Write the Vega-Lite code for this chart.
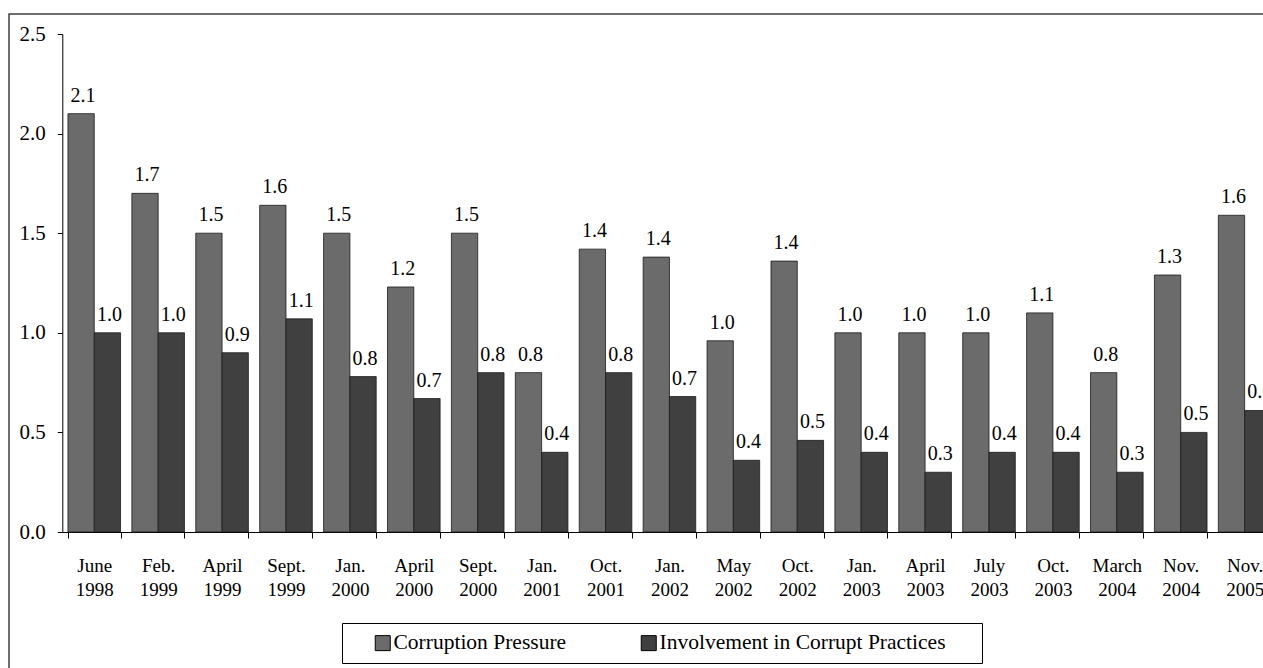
{
  "$schema": "https://vega.github.io/schema/vega-lite/v6.json",
  "autosize": {"type": "none"},
  "padding": {"left": 9, "top": 14, "right": 0, "bottom": 0},
  "width": 1262,
  "height": 664,
  "background": "white",
  "config": {"font": "Liberation Serif", "view": {"stroke": "#404040", "strokeWidth": 1.5}},
  "data": {"values": [
    {"period": "June 1998", "series": "Corruption Pressure", "value": 2.1},
    {"period": "June 1998", "series": "Involvement in Corrupt Practices", "value": 1.0},
    {"period": "Feb. 1999", "series": "Corruption Pressure", "value": 1.7},
    {"period": "Feb. 1999", "series": "Involvement in Corrupt Practices", "value": 1.0},
    {"period": "April 1999", "series": "Corruption Pressure", "value": 1.5},
    {"period": "April 1999", "series": "Involvement in Corrupt Practices", "value": 0.9},
    {"period": "Sept. 1999", "series": "Corruption Pressure", "value": 1.64},
    {"period": "Sept. 1999", "series": "Involvement in Corrupt Practices", "value": 1.07},
    {"period": "Jan. 2000", "series": "Corruption Pressure", "value": 1.5},
    {"period": "Jan. 2000", "series": "Involvement in Corrupt Practices", "value": 0.78},
    {"period": "April 2000", "series": "Corruption Pressure", "value": 1.23},
    {"period": "April 2000", "series": "Involvement in Corrupt Practices", "value": 0.67},
    {"period": "Sept. 2000", "series": "Corruption Pressure", "value": 1.5},
    {"period": "Sept. 2000", "series": "Involvement in Corrupt Practices", "value": 0.8},
    {"period": "Jan. 2001", "series": "Corruption Pressure", "value": 0.8},
    {"period": "Jan. 2001", "series": "Involvement in Corrupt Practices", "value": 0.4},
    {"period": "Oct. 2001", "series": "Corruption Pressure", "value": 1.42},
    {"period": "Oct. 2001", "series": "Involvement in Corrupt Practices", "value": 0.8},
    {"period": "Jan. 2002", "series": "Corruption Pressure", "value": 1.38},
    {"period": "Jan. 2002", "series": "Involvement in Corrupt Practices", "value": 0.68},
    {"period": "May 2002", "series": "Corruption Pressure", "value": 0.96},
    {"period": "May 2002", "series": "Involvement in Corrupt Practices", "value": 0.36},
    {"period": "Oct. 2002", "series": "Corruption Pressure", "value": 1.36},
    {"period": "Oct. 2002", "series": "Involvement in Corrupt Practices", "value": 0.46},
    {"period": "Jan. 2003", "series": "Corruption Pressure", "value": 1.0},
    {"period": "Jan. 2003", "series": "Involvement in Corrupt Practices", "value": 0.4},
    {"period": "April 2003", "series": "Corruption Pressure", "value": 1.0},
    {"period": "April 2003", "series": "Involvement in Corrupt Practices", "value": 0.3},
    {"period": "July 2003", "series": "Corruption Pressure", "value": 1.0},
    {"period": "July 2003", "series": "Involvement in Corrupt Practices", "value": 0.4},
    {"period": "Oct. 2003", "series": "Corruption Pressure", "value": 1.1},
    {"period": "Oct. 2003", "series": "Involvement in Corrupt Practices", "value": 0.4},
    {"period": "March 2004", "series": "Corruption Pressure", "value": 0.8},
    {"period": "March 2004", "series": "Involvement in Corrupt Practices", "value": 0.3},
    {"period": "Nov. 2004", "series": "Corruption Pressure", "value": 1.29},
    {"period": "Nov. 2004", "series": "Involvement in Corrupt Practices", "value": 0.5},
    {"period": "Nov. 2005", "series": "Corruption Pressure", "value": 1.59},
    {"period": "Nov. 2005", "series": "Involvement in Corrupt Practices", "value": 0.61}
  ]},
  "encoding": {
    "x": {
      "field": "period", "type": "nominal", "sort": null,
      "scale": {"range": [53.3, 1267.6], "paddingInner": 0.177, "paddingOuter": 0.0885},
      "axis": {
        "title": null, "orient": "bottom", "offset": -146, "labelAngle": 0,
        "labelExpr": "split(datum.label, ' ')", "labelFont": "Liberation Serif", "labelFontSize": 19, "labelLineHeight": 24,
        "labelColor": "black", "labelPadding": 18, "labelBaseline": "top",
        "tickBand": "extent", "tickSize": 6, "tickColor": "black", "domainColor": "black", "labelLimit": 0
      }
    },
    "xOffset": {"field": "series", "sort": null, "scale": {"paddingInner": 0}},
    "y": {
      "field": "value", "type": "quantitative",
      "scale": {"domain": [0, 2.5], "range": [518, 20], "nice": false, "zero": true},
      "axis": {
        "title": null, "offset": -53.3, "values": [0, 0.5, 1, 1.5, 2, 2.5], "format": ".1f",
        "grid": false, "labelFont": "Liberation Serif", "labelFontSize": 21, "labelColor": "black", "tickSize": 5,
        "labelPadding": 12, "domainColor": "black", "tickColor": "black"
      }
    }
  },
  "layer": [
    {
      "mark": {"type": "bar", "stroke": "#1a1a1a", "strokeWidth": 0.8},
      "encoding": {
        "color": {
          "field": "series", "type": "nominal", "sort": null,
          "scale": {"domain": ["Corruption Pressure", "Involvement in Corrupt Practices"], "range": ["#6b6b6b", "#404040"]},
          "legend": {
            "title": " ", "titleOrient": "right", "titleFontSize": 1, "titlePadding": 28,
            "orient": "none", "legendX": 333, "legendY": 609,
            "direction": "horizontal", "columns": 2,
            "symbolType": "square", "symbolSize": 225, "symbolStrokeColor": "black", "symbolStrokeWidth": 1,
            "labelFont": "Liberation Serif", "labelFontSize": 21.5, "labelColor": "black", "labelOffset": 0, "columnPadding": 50,
            "padding": 9, "strokeColor": "black", "symbolOffset": 21, "fillColor": "white", "labelLimit": 0
          }
        }
      }
    },
    {
      "mark": {"type": "text", "baseline": "alphabetic", "dy": -12, "dx": 2, "font": "Liberation Serif", "fontSize": 20, "color": "black"},
      "encoding": {"text": {"field": "value", "type": "quantitative", "format": ".1f"}}
    }
  ]
}
